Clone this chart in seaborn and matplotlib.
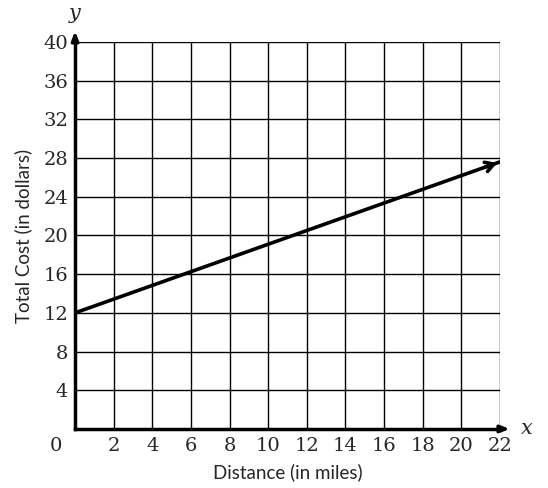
import matplotlib
matplotlib.use("Agg")
import matplotlib.pyplot as plt
import seaborn as sns
import pandas as pd

# data
distance = [0, 22]
total_cost = [12, 27.6]
x_ticks = [2, 4, 6, 8, 10, 12, 14, 16, 18, 20, 22]
y_ticks = [4, 8, 12, 16, 20, 24, 28, 32, 36, 40]

sns.set_style("white")
plt.rcParams['font.family'] = ['DejaVu Serif']

df = pd.DataFrame({"Distance": distance, "Cost": total_cost})

fig = plt.figure(figsize=(5.48, 4.88), dpi=100)
ax = fig.add_axes([0.137, 0.121, 0.775, 0.793])

# grid
for xv in x_ticks:
    ax.axvline(xv, color="black", lw=1.0, zorder=1)
for yv in y_ticks:
    ax.axhline(yv, color="black", lw=1.0, zorder=1)

sns.lineplot(data=df, x="Distance", y="Cost", ax=ax, color="black", lw=2.6, zorder=3)
# arrow head at end of line
slope = (total_cost[-1] - total_cost[0]) / (distance[-1] - distance[0])
ax.annotate("", xy=(distance[-1], total_cost[-1]),
            xytext=(distance[-1] - 0.9, total_cost[-1] - 0.9 * slope),
            arrowprops=dict(arrowstyle="->,head_length=0.6,head_width=0.35", color="black", lw=2.6),
            zorder=4)

ax.set_xlim(0, 22)
ax.set_ylim(0, 40)
ax.set_xticks(x_ticks)
ax.set_yticks(y_ticks)
ax.tick_params(axis="both", length=0, labelsize=14, pad=5)
ax.tick_params(axis="x", pad=6)

for s in ["top", "right"]:
    ax.spines[s].set_visible(False)
for s in ["left", "bottom"]:
    ax.spines[s].set_linewidth(2.5)
    ax.spines[s].set_color("black")
    ax.spines[s].set_zorder(5)

# axis arrows
ax.annotate("", xy=(0, 1.035), xytext=(0, 0.99), xycoords="axes fraction",
            arrowprops=dict(arrowstyle="-|>,head_length=0.5,head_width=0.2", color="black", lw=2.5))
ax.annotate("", xy=(1.03, 0), xytext=(0.99, 0), xycoords="axes fraction",
            arrowprops=dict(arrowstyle="-|>,head_length=0.5,head_width=0.2", color="black", lw=2.5))
ax.text(0.0, 1.05, "y", transform=ax.transAxes, fontsize=15, style="italic", ha="center", va="bottom")
ax.text(1.05, 0.0, "x", transform=ax.transAxes, fontsize=15, style="italic", ha="left", va="center")
ax.text(-0.045, -0.022, "0", transform=ax.transAxes, fontsize=14, ha="center", va="top")

ax.set_xlabel("Distance (in miles)", family="Lato", fontsize=13.5, labelpad=6)
ax.set_ylabel("Total Cost (in dollars)", family="Lato", fontsize=13.5, labelpad=8)

fig.savefig("out.png", dpi=100)
